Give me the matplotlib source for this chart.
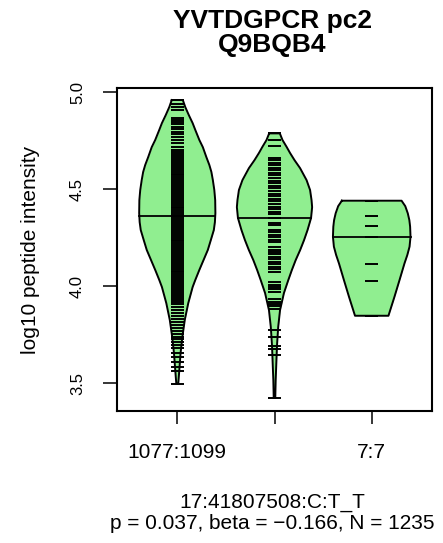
import numpy as np
import matplotlib
matplotlib.use("Agg")
import matplotlib.pyplot as plt

plt.rcParams['font.family'] = ['Liberation Sans', 'DejaVu Sans']

# ---------------- data ----------------
categories = ["1077:1099", "", "7:7"]
title_lines = ["YVTDGPCR pc2", "Q9BQB4"]
xlabel_lines = ["17:41807508:C:T_T", "p = 0.037, beta = \u22120.166, N = 1235"]
ylabel = "log10 peptide intensity"
yticks = [3.5, 4.0, 4.5, 5.0]
ytick_labels = ["3.5", "4.0", "4.5", "5.0"]

# individual peptide intensities (bean lines)
g1_values = [4.959, 4.937, 4.921, 4.907, 4.864, 4.856, 4.847, 4.833, 4.821, 4.809,
             4.795, 4.782, 4.770, 4.753, 4.736, 4.718, 4.701,
             4.69, 4.68, 4.67, 4.66, 4.65, 4.64, 4.63, 4.62, 4.61, 4.60,
             4.59, 4.58, 4.57, 4.56, 4.55, 4.54, 4.53, 4.52, 4.51, 4.50,
             4.49, 4.48, 4.47, 4.46, 4.45, 4.44, 4.43, 4.42, 4.41, 4.40,
             4.39, 4.38, 4.37, 4.36, 4.35, 4.34, 4.33, 4.32, 4.31, 4.30,
             4.29, 4.28, 4.27, 4.26, 4.25, 4.24, 4.23, 4.22, 4.21, 4.20,
             4.19, 4.18, 4.17, 4.16, 4.15, 4.14, 4.13, 4.12, 4.11, 4.10,
             4.09, 4.08, 4.07, 4.06, 4.05, 4.04, 4.03, 4.02, 4.01, 4.00,
             3.99, 3.98, 3.97, 3.96,
             3.95, 3.94, 3.93, 3.92, 3.905, 3.89, 3.875, 3.86, 3.845, 3.83,
             3.815, 3.80, 3.785, 3.77, 3.755, 3.74, 3.725, 3.71, 3.695, 3.68,
             3.653, 3.632, 3.61, 3.585, 3.56, 3.497]
g2_values = [4.787, 4.753, 4.722,
             4.660, 4.648, 4.636, 4.622, 4.610, 4.596, 4.583, 4.570, 4.556,
             4.542, 4.530, 4.516, 4.503, 4.490, 4.476, 4.463, 4.450, 4.437,
             4.424, 4.410, 4.396, 4.384, 4.370, 4.350,
             4.325, 4.315, 4.290, 4.278, 4.265, 4.252, 4.240, 4.228,
             4.200, 4.188, 4.175, 4.163, 4.150, 4.138, 4.125, 4.112, 4.100,
             4.088, 4.075,
             4.020, 4.008, 3.995, 3.983, 3.970,
             3.932, 3.920, 3.907, 3.895, 3.880,
             3.773, 3.737, 3.690, 3.675, 3.644, 3.423]
g3_values = [3.847, 4.027, 4.112, 4.255, 4.311, 4.361, 4.440]

medians = [4.361, 4.350, 4.255]

# bean outlines: density levels (y) and half widths
g1_dens_y = [4.959, 4.923, 4.881, 4.840, 4.804, 4.753, 4.716, 4.665, 4.624, 4.588,
             4.546, 4.495, 4.443, 4.376, 4.330, 4.289, 4.237, 4.186, 4.134, 4.082,
             4.031, 3.995, 3.912, 3.825, 3.737, 3.655, 3.567, 3.497]
g1_dens_w = [0.057, 0.082, 0.119, 0.158, 0.186, 0.227, 0.263, 0.299, 0.330, 0.351,
             0.366, 0.381, 0.390, 0.392, 0.387, 0.376, 0.345, 0.314, 0.270, 0.226,
             0.185, 0.158, 0.113, 0.077, 0.052, 0.034, 0.021, 0.010]
g2_dens_y = [4.787, 4.753, 4.718, 4.686, 4.649, 4.608, 4.546, 4.495, 4.443, 4.407,
             4.351, 4.289, 4.237, 4.186, 4.134, 4.082, 4.031, 3.964, 3.876, 3.789,
             3.696, 3.619, 3.515, 3.423]
g2_dens_w = [0.055, 0.082, 0.124, 0.160, 0.206, 0.263, 0.330, 0.366, 0.381, 0.387,
             0.376, 0.340, 0.304, 0.264, 0.218, 0.178, 0.142, 0.097, 0.057, 0.038,
             0.026, 0.020, 0.012, 0.008]
g3_dens_y = [4.440, 4.412, 4.375, 4.340, 4.306, 4.254, 4.203, 4.160, 4.117, 4.031,
             3.945, 3.847]
g3_dens_w = [0.307, 0.345, 0.371, 0.387, 0.395, 0.399, 0.389, 0.366, 0.337, 0.286,
             0.234, 0.172]

# ---------------- drawing ----------------
W, H = 443, 543
fig = plt.figure(figsize=(W / 100, H / 100), dpi=100)
ax = fig.add_axes([117 / W, 1 - 411 / H, (432 - 117) / W, (411 - 88) / H])

fill_color = '#90EE90'
bean_half = 0.066
positions = [1, 2, 3]
groups = [(g1_values, g1_dens_y, g1_dens_w),
          (g2_values, g2_dens_y, g2_dens_w),
          (g3_values, g3_dens_y, g3_dens_w)]

for pos, (vals, dy, dw), med in zip(positions, groups, medians):
    dy = np.asarray(dy, float)
    dw = np.asarray(dw, float)
    ax.fill_betweenx(dy, pos - dw, pos + dw, color=fill_color, lw=0, zorder=1)
    ax.hlines(vals, pos - bean_half, pos + bean_half, color='black',
              lw=1.4, alpha=1.0, zorder=2)
    xs = np.concatenate([pos - dw, (pos + dw)[::-1], [pos - dw[0]]])
    ys = np.concatenate([dy, dy[::-1], [dy[0]]])
    ax.plot(xs, ys, color='black', lw=1.4, zorder=3, solid_joinstyle='round')
    order = np.argsort(dy)
    mw = np.interp(med, dy[order], dw[order])
    ax.plot([pos - mw, pos + mw], [med, med], color='black', lw=1.3, zorder=4)

ax.set_xlim(0.38, 3.62)
ax.set_ylim(3.356, 5.021)

ax.set_xticks(positions)
ax.set_xticklabels(categories, fontsize=15)
ax.tick_params(axis='x', length=9.5, width=1.1, pad=13.5, color='black')

ax.set_yticks(yticks)
ax.set_yticklabels(ytick_labels, fontsize=12, rotation=90, va='center')
ax.tick_params(axis='y', length=10, width=1.1, pad=13, color='black')

for sp in ax.spines.values():
    sp.set_linewidth(1.5)
    sp.set_color('black')

cx = 0.615
fig.text(cx, 1 - 27.7 / H, title_lines[0], ha='center', va='baseline',
         fontsize=19, fontweight='bold')
fig.text(cx, 1 - 51.8 / H, title_lines[1], ha='center', va='baseline',
         fontsize=19, fontweight='bold')
fig.text(cx, 1 - 507.3 / H, xlabel_lines[0], ha='center', va='baseline', fontsize=15)
fig.text(cx, 1 - 529.0 / H, xlabel_lines[1], ha='center', va='baseline', fontsize=15)
fig.text(30.5 / W, 1 - 249.5 / H, ylabel, rotation=90, ha='center', va='center',
         fontsize=15)

fig.savefig("out.png", dpi=100)
